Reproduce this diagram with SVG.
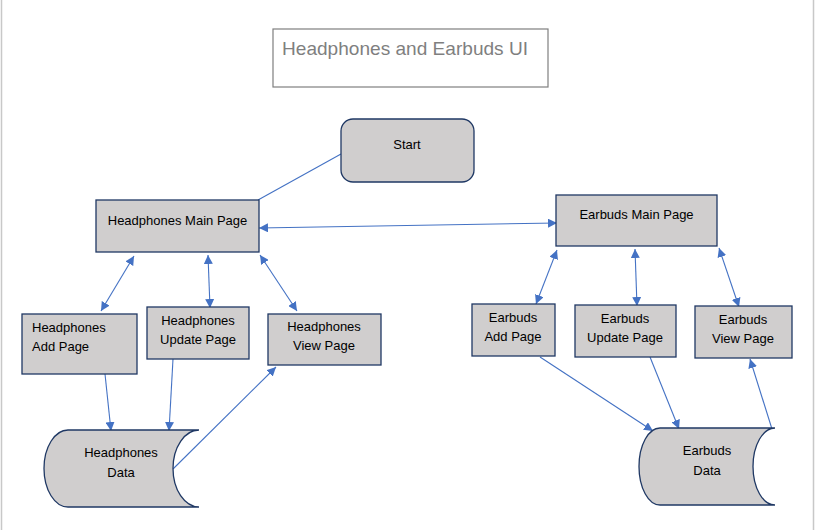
<svg xmlns="http://www.w3.org/2000/svg" width="816" height="530" viewBox="0 0 816 530">
<defs>
<marker id="ah" viewBox="0 0 10 10" refX="10" refY="5" markerWidth="9" markerHeight="9" markerUnits="userSpaceOnUse" orient="auto-start-reverse">
<path d="M0,0 L10,5 L0,10 z" fill="#4472c4"/>
</marker>
<style>
.box{fill:#d0cece;stroke:#1f3864;stroke-width:1.3}
.t{font-family:"Liberation Sans",Arial,sans-serif;font-size:13px;fill:#000}
.c{text-anchor:middle}
.ln{stroke:#4472c4;stroke-width:1.1;fill:none}
.a2{marker-start:url(#ah);marker-end:url(#ah)}
.a1{marker-end:url(#ah)}
</style>
</defs>
<rect x="0" y="0" width="816" height="530" fill="#ffffff"/>
<line x1="1.5" y1="0" x2="1.5" y2="530" stroke="#c8c8c8" stroke-width="1.5"/>
<line x1="813.5" y1="0" x2="813.5" y2="530" stroke="#c8c8c8" stroke-width="1.5"/>

<g id="title">
<rect x="273" y="29" width="275" height="58" fill="#ffffff" stroke="#7f7f7f" stroke-width="1.2"/>
<text x="282" y="55" font-family="'Liberation Sans',Arial,sans-serif" font-size="19" fill="#7f7f7f" textLength="246" lengthAdjust="spacingAndGlyphs">Headphones and Earbuds UI</text>
</g>

<g id="connectors">
<line class="ln" x1="341" y1="154" x2="258" y2="200"/>
<line class="ln a2" x1="259" y1="228" x2="557" y2="223"/>
<line class="ln a2" x1="134" y1="256" x2="101" y2="311"/>
<line class="ln a2" x1="208" y1="255" x2="210" y2="308"/>
<line class="ln a2" x1="260" y1="255" x2="297" y2="311"/>
<line class="ln a1" x1="105" y1="374" x2="111" y2="431"/>
<line class="ln a1" x1="173" y1="359" x2="169" y2="431"/>
<line class="ln a1" x1="173" y1="469" x2="276" y2="367"/>
<line class="ln a2" x1="557" y1="250" x2="536" y2="304"/>
<line class="ln a2" x1="635" y1="249" x2="637" y2="306"/>
<line class="ln a2" x1="719" y1="248" x2="739" y2="307"/>
<line class="ln a1" x1="540" y1="357" x2="653" y2="431"/>
<line class="ln a1" x1="650" y1="357" x2="679" y2="429"/>
<line class="ln a1" x1="772" y1="429" x2="750" y2="359"/>
</g>

<g id="start">
<rect class="box" x="341" y="119" width="133" height="63" rx="12" ry="12"/>
<text class="t c" x="407" y="149">Start</text>
</g>

<g id="headphones-main">
<rect class="box" x="96" y="200" width="163" height="52"/>
<text class="t c" x="177.5" y="225">Headphones Main Page</text>
</g>

<g id="earbuds-main">
<rect class="box" x="556" y="195" width="161" height="51"/>
<text class="t c" x="636.5" y="219">Earbuds Main Page</text>
</g>

<g id="headphones-add">
<rect class="box" x="22" y="314" width="115" height="60"/>
<text class="t" x="32" y="332">Headphones</text>
<text class="t" x="32" y="351">Add Page</text>
</g>

<g id="headphones-update">
<rect class="box" x="147" y="307" width="102" height="52"/>
<text class="t c" x="198" y="325">Headphones</text>
<text class="t c" x="198" y="344">Update Page</text>
</g>

<g id="headphones-view">
<rect class="box" x="268" y="314" width="113" height="51"/>
<text class="t c" x="324" y="331">Headphones</text>
<text class="t c" x="324" y="350">View Page</text>
</g>

<g id="earbuds-add">
<rect class="box" x="472" y="304" width="83" height="52"/>
<text class="t c" x="513" y="322">Earbuds</text>
<text class="t c" x="513" y="341">Add Page</text>
</g>

<g id="earbuds-update">
<rect class="box" x="575" y="305" width="101" height="52"/>
<text class="t c" x="625" y="323">Earbuds</text>
<text class="t c" x="625" y="342">Update Page</text>
</g>

<g id="earbuds-view">
<rect class="box" x="695" y="306" width="97" height="52"/>
<text class="t c" x="743" y="324">Earbuds</text>
<text class="t c" x="743" y="343">View Page</text>
</g>

<g id="headphones-data">
<path class="box" d="M68,430 H199 A26,38.5 0 0 0 199,507 H68 A24,38.5 0 0 1 68,430 Z"/>
<text class="t c" x="121" y="457">Headphones</text>
<text class="t c" x="121" y="477">Data</text>
</g>

<g id="earbuds-data">
<path class="box" d="M660,428 H775 A22,38.5 0 0 0 775,505 H660 A21,38.5 0 0 1 660,428 Z"/>
<text class="t c" x="707" y="455">Earbuds</text>
<text class="t c" x="707" y="475">Data</text>
</g>
</svg>
